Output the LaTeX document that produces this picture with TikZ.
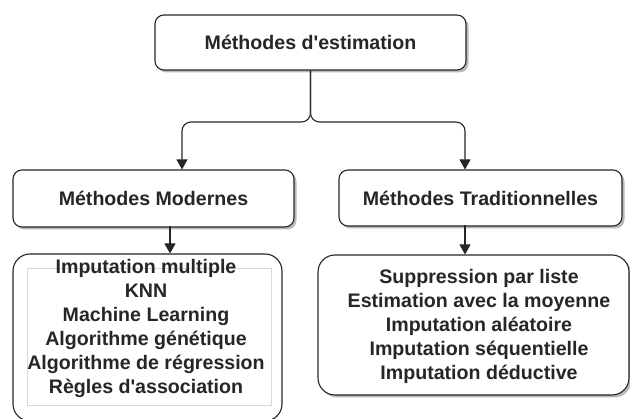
\documentclass[tikz,border=0pt]{standalone}
\usepackage{fontspec}
\setmainfont{Liberation Sans}
\usetikzlibrary{arrows.meta,shadows}
\definecolor{edge}{HTML}{262626}
\newcommand{\apos}{\textquotesingle}
\tikzset{
  x=1pt, y=-1pt,
  shade box/.style={drop shadow={shadow xshift=2.5pt, shadow yshift=-2.5pt, fill=black!45, opacity=0.6}},
  headbox/.style={draw=edge, line width=1.1pt, fill=white, rounded corners=9pt,
    inner sep=0pt, font=\fontsize{19.6}{24}\selectfont\bfseries, text=black!85},
  listbox/.style={draw=edge, line width=1.1pt, fill=white, rounded corners=17pt, inner sep=0pt},
  listtext/.style={align=center, inner sep=0pt, font=\fontsize{19.6}{24}\selectfont\bfseries, text=black!85},
  link/.style={draw=edge, line width=1.1pt, rounded corners=9pt,
    -{Triangle[width=11pt,length=10pt]}},
  plain link/.style={draw=edge, line width=1.1pt, -{Triangle[width=11pt,length=10pt]}}
}
\begin{document}
\begin{tikzpicture}
\useasboundingbox (0,0) rectangle (630,419);
\clip (0,0) rectangle (630,419);

% top-level node
\node[headbox, shade box, minimum width=311pt, minimum height=55pt] (root) at (310.5,42.5) {Méthodes d\apos estimation};

% second level
\node[headbox, shade box, minimum width=281pt, minimum height=57pt] (mod) at (153.5,198.5) {Méthodes Modernes};
\node[headbox, shade box, minimum width=283pt, minimum height=56pt] (trad) at (480.5,198) {Méthodes Traditionnelles};

% list boxes
\node[listbox, minimum width=269pt, minimum height=167pt] (modlist) at (147.5,337.5) {};
\draw[black!15, line width=0.6pt] (27,268) rectangle (271,405);
\node[listtext] (modtext) at (146,328) {Imputation multiple\\KNN\\Machine Learning\\Algorithme génétique\\Algorithme de régression\\Règles d\apos association};

\node[listbox, shade box, minimum width=311pt, minimum height=140pt] (tradlist) at (473.5,325) {};
\node[listtext] (tradtext) at (479,326) {Suppression par liste\\Estimation avec la moyenne\\Imputation aléatoire\\Imputation séquentielle\\Imputation déductive};

% connectors
\coordinate (jl) at (182,122);
\coordinate (jr) at (465,122);
\draw[link] (root.south) |- (jl) -- (jl |- mod.north);
\draw[link] (root.south) |- (jr) -- (jr |- trad.north);
\draw[plain link] (modlist.north -| 170,0) ++(0,-27) -- (modlist.north -| 170,0);
\draw[plain link] (tradlist.north -| 465,0) ++(0,-29) -- (tradlist.north -| 465,0);
\end{tikzpicture}
\end{document}
